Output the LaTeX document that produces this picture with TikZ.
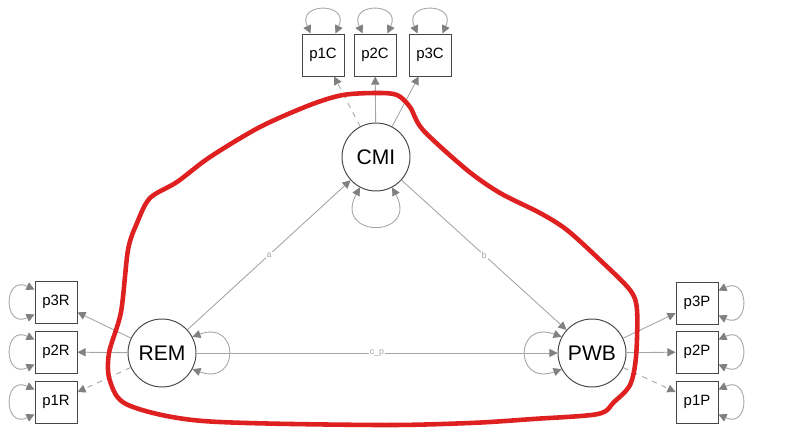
\documentclass[tikz,border=0pt]{standalone}
\usepackage{fontspec}
\setmainfont{Liberation Sans}
\usetikzlibrary{arrows.meta}
\definecolor{edgegray}{RGB}{165,165,165}
\definecolor{tipgray}{RGB}{128,128,128}
\definecolor{bordergray}{RGB}{70,70,70}
\definecolor{markred}{RGB}{222,32,32}
\tikzset{
  latent/.style={circle, draw=bordergray, line width=0.55pt, minimum size=1.36cm,
    inner sep=0pt, font=\fontsize{12}{14}\selectfont},
  manifest/.style={rectangle, draw=bordergray, line width=0.55pt, minimum size=0.84cm,
    inner sep=0pt, font=\fontsize{8.5}{10}\selectfont},
  gtip/.tip={Triangle[length=4.6pt, width=4.6pt, color=tipgray]},
  load/.style={draw=edgegray, line width=0.5pt, -gtip},
  regr/.style={draw=edgegray, line width=0.5pt, -gtip},
  varloop/.style={draw=edgegray, line width=0.5pt, gtip-gtip},
  coef/.style={font=\fontsize{5}{6}\selectfont, text=edgegray, fill=white, inner sep=0.6pt}
}

\begin{document}
\begin{tikzpicture}[x=0.02cm, y=-0.02cm]
  \useasboundingbox (0,0) rectangle (787,428);

  % latent variables
  \node [latent] (CMI) at (376,157){CMI};
  \node [latent] (REM) at (162,353){REM};
  \node [latent] (PWB) at (592,353){PWB};

  % indicators of CMI
  \node [manifest] (p1C) at (323,55){p1C};
  \node [manifest] (p2C) at (375,55){p2C};
  \node [manifest] (p3C) at (430,55){p3C};

  % indicators of REM
  \node [manifest] (p3R) at (56,302){p3R};
  \node [manifest] (p2R) at (56,352){p2R};
  \node [manifest] (p1R) at (56,402){p1R};

  % indicators of PWB
  \node [manifest] (p3P) at (697,303){p3P};
  \node [manifest] (p2P) at (697,352){p2P};
  \node [manifest] (p1P) at (697,402){p1P};

  % loadings
  \draw [load, dashed] (CMI)--(p1C);
  \draw [load] (CMI)--(p2C);
  \draw [load] (CMI)--(p3C);
  \draw [load] (REM)--(p3R);
  \draw [load] (REM)--(p2R);
  \draw [load, dashed] (REM)--(p1R);
  \draw [load] (PWB)--(p3P);
  \draw [load] (PWB)--(p2P);
  \draw [load, dashed] (PWB)--(p1P);

  % structural paths
  \draw [regr] (REM)--(CMI) node [coef, midway]{a};
  \draw [regr] (CMI)--(PWB) node [coef, midway]{b};
  \draw [regr] (REM)--(PWB) node [coef, midway]{c\_p};

  % variances of latents
  \draw [varloop] (CMI.-118) to [out=-118, in=-62, looseness=4.6] (CMI.-62);
  \draw [varloop] (REM.28) to [out=20, in=-20, looseness=4] (REM.-28);
  \draw [varloop] (PWB.152) to [out=160, in=200, looseness=4] (PWB.208);

  % variances of indicators
  \foreach \n in {p1C, p2C, p3C}
    \draw [varloop] (\n.120) to [out=115, in=65, looseness=3.6] (\n.60);
  \foreach \n in {p3R, p2R, p1R}
    \draw [varloop] (\n.150) to [out=155, in=205, looseness=3.6] (\n.210);
  \foreach \n in {p3P, p2P, p1P}
    \draw [varloop] (\n.30) to [out=25, in=-25, looseness=3.6] (\n.-30);

  % red outline
  \draw [markred, line width=2.6pt, line join=round]
    plot [smooth cycle, tension=0.5] coordinates {
      (128,250) (137,223) (150,198) (177,182) (210,157) (260,127) (310,105)
      (343,95) (377,93) (397,95) (410,107) (423,130) (467,170) (500,193)
      (540,213) (567,230) (600,260) (630,290) (637,310) (636,357) (630,385)
      (614,402) (598,414) (533,419) (470,423) (376,425) (203,421) (128,405)
      (110,381) (109,353) (121,312)};
\end{tikzpicture}
\end{document}
